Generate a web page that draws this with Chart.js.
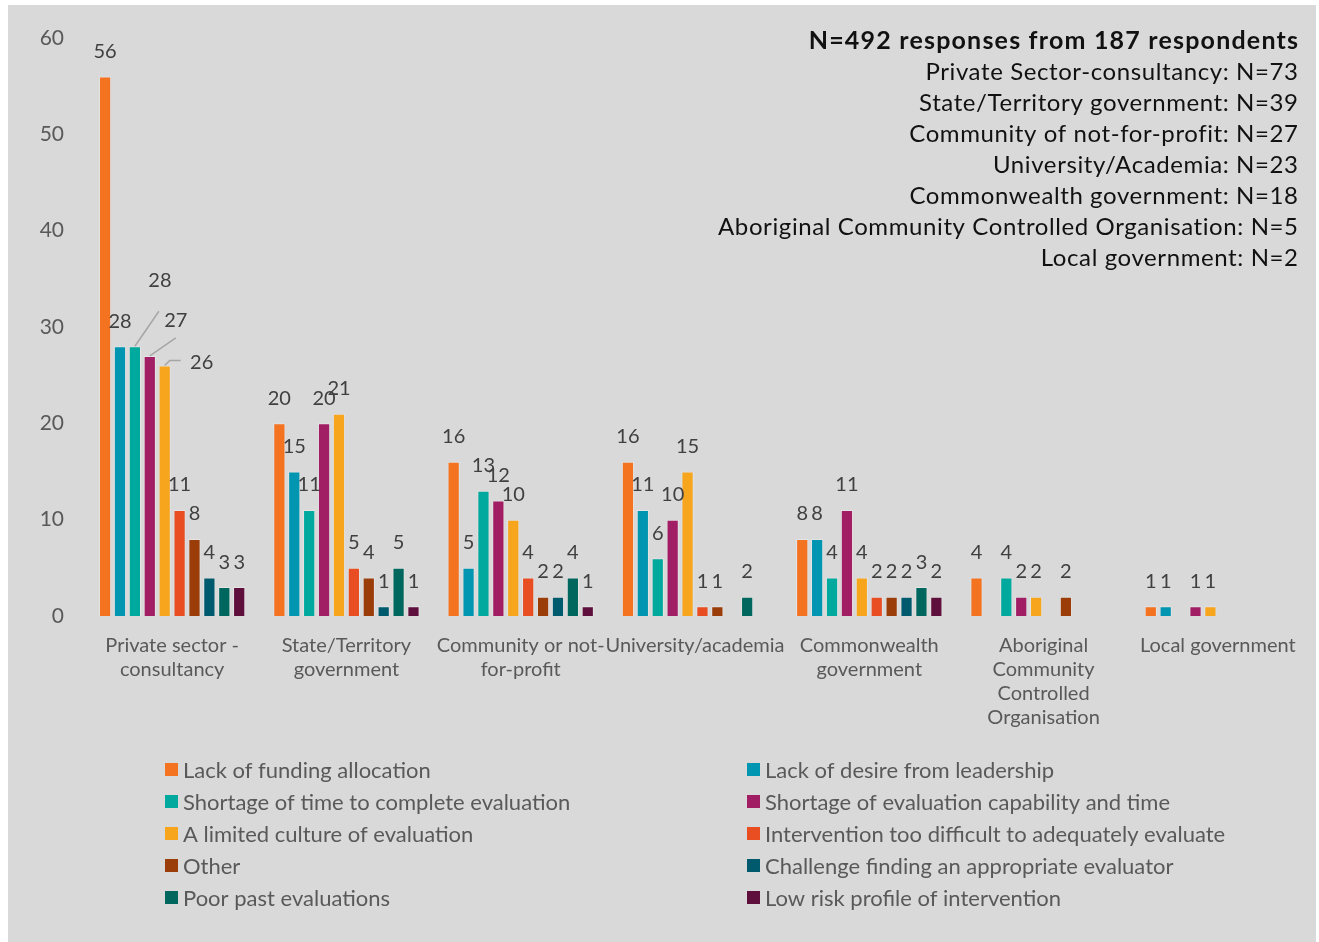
<!DOCTYPE html>
<html>
<head>
<meta charset="utf-8">
<script src="https://cdn.jsdelivr.net/npm/chart.js@4/dist/chart.umd.min.js"></script>
<style>
  html, body { margin: 0; padding: 0; background: #ffffff; }
  #wrap { position: relative; width: 1319px; height: 942px; }
</style>
</head>
<body>
<div id="wrap"><canvas id="chart" width="1319" height="942"></canvas></div>
<script>
// Respondent sectors (x-axis categories, wrapped as drawn)
const categories = [
  ['Private sector -', 'consultancy'],
  ['State/Territory', 'government'],
  ['Community or not-', 'for-profit'],
  'University/academia',
  ['Commonwealth', 'government'],
  ['Aboriginal', 'Community', 'Controlled', 'Organisation'],
  'Local government'
];

// Barrier series, one value per sector (null = no responses)
const lackOfFunding        = [56, 20, 16, 16, 8, 4, 1];
const lackOfDesire         = [28, 15, 5, 11, 8, null, 1];
const shortageOfTime       = [28, 11, 13, 6, 4, 4, null];
const shortageOfCapability = [27, 20, 12, 10, 11, 2, 1];
const limitedCulture       = [26, 21, 10, 15, 4, 2, 1];
const tooDifficult         = [11, 5, 4, 1, 2, null, null];
const other                = [8, 4, 2, 1, 2, 2, null];
const findingEvaluator     = [4, 1, 2, null, 2, null, null];
const poorPastEvaluations  = [3, 5, 4, 2, 3, null, null];
const lowRiskProfile       = [3, 1, 1, null, 2, null, null];

const seriesNames = [
  'Lack of funding allocation',
  'Lack of desire from leadership',
  'Shortage of time to complete evaluation',
  'Shortage of evaluation capability and time',
  'A limited culture of evaluation',
  'Intervention too difficult to adequately evaluate',
  'Other',
  'Challenge finding an appropriate evaluator',
  'Poor past evaluations',
  'Low risk profile of intervention'
];
const seriesValues = [
  lackOfFunding, lackOfDesire, shortageOfTime, shortageOfCapability, limitedCulture,
  tooDifficult, other, findingEvaluator, poorPastEvaluations, lowRiskProfile
];
const seriesColors = [
  '#F47321', '#0095B0', '#00A99D', '#A21E64', '#F8A51E',
  '#E84E22', '#9A3D09', '#005A6E', '#00675E', '#5E0F3B'
];

// Y-axis ticks
const yTicks = [0, 10, 20, 30, 40, 50, 60];

// Sample size notes shown top-right
const noteTitle = 'N=492 responses from 187 respondents';
const noteLines = [
  'Private Sector-consultancy: N=73',
  'State/Territory government: N=39',
  'Community of not-for-profit: N=27',
  'University/Academia: N=23',
  'Commonwealth government: N=18',
  'Aboriginal Community Controlled Organisation: N=5',
  'Local government: N=2'
];

const FONT = 'Lato, "Open Sans", sans-serif';
const GREY_TEXT = '#595959';

// Light grey panel behind the whole figure
const panelPlugin = {
  id: 'panel',
  beforeDraw(chart) {
    const ctx = chart.ctx;
    ctx.save();
    ctx.fillStyle = '#ffffff';
    ctx.fillRect(0, 0, chart.width, chart.height);
    ctx.fillStyle = '#d9d9d9';
    ctx.fillRect(8, 5, 1308, 937);
    ctx.restore();
  }
};

// Value labels above each bar; a few crowded ones are moved out with leader lines
const valueLabelPlugin = {
  id: 'valueLabels',
  afterDatasetsDraw(chart, args, opts) {
    const ctx = chart.ctx;
    ctx.save();
    ctx.font = '20px ' + FONT;
    ctx.fillStyle = '#404040';
    ctx.textAlign = 'center';
    ctx.textBaseline = 'middle';
    chart.data.datasets.forEach((ds, di) => {
      const meta = chart.getDatasetMeta(di);
      meta.data.forEach((bar, i) => {
        const v = ds.data[i];
        if (v === null || v === undefined) return;
        const key = di + ':' + i;
        const c = opts.callouts[key];
        if (c) {
          const lx = bar.x + c.dx, ly = bar.y + c.dy;
          ctx.strokeStyle = '#a6a6a6';
          ctx.lineWidth = 1.5;
          ctx.beginPath();
          ctx.moveTo(bar.x, bar.y);
          c.path.forEach(p => ctx.lineTo(bar.x + p[0], bar.y + p[1]));
          ctx.stroke();
          ctx.fillText(String(v), lx, ly);
        } else {
          ctx.fillText(String(v), bar.x, bar.y - 25);
        }
      });
    });
    ctx.restore();
  }
};

// Two-column legend and sample-size notes
const sideTextPlugin = {
  id: 'sideText',
  afterDraw(chart) {
    const ctx = chart.ctx;
    ctx.save();
    // notes
    ctx.textAlign = 'right';
    ctx.textBaseline = 'middle';
    ctx.fillStyle = '#111111';
    ctx.letterSpacing = '1.2px';
    ctx.font = 'bold 25px ' + FONT;
    ctx.fillText(noteTitle, 1298 + 1.2, 41);
    ctx.letterSpacing = '0.6px';
    ctx.font = '24px ' + FONT;
    noteLines.forEach((t, k) => ctx.fillText(t, 1298 + 0.6, 72 + k * 31));
    ctx.letterSpacing = '0px';
    // legend
    ctx.textAlign = 'left';
    ctx.font = '22px ' + FONT;
    chart.data.datasets.forEach((ds, di) => {
      const col = di % 2, row = Math.floor(di / 2);
      const bx = col === 0 ? 165 : 747;
      const cy = 769.5 + row * 32;
      ctx.fillStyle = ds.backgroundColor;
      ctx.fillRect(bx, cy - 6.5, 13, 13);
      ctx.fillStyle = GREY_TEXT;
      ctx.fillText(ds.label, bx + 18, cy + 1);
    });
    ctx.restore();
  }
};

const datasets = seriesNames.map((name, k) => ({
  label: name,
  data: seriesValues[k],
  backgroundColor: seriesColors[k],
  borderColor: 'rgba(255,255,255,0.3)',
  borderWidth: 1,
  categoryPercentage: 0.855,
  barPercentage: 0.82
}));

new Chart(document.getElementById('chart'), {
  type: 'bar',
  data: { labels: categories, datasets },
  plugins: [panelPlugin, valueLabelPlugin, sideTextPlugin],
  options: {
    responsive: false,
    animation: false,
    layout: { padding: { top: 38, right: 14, left: 0, bottom: 0 } },
    plugins: {
      legend: { display: false },
      tooltip: { enabled: false },
      valueLabels: {
        callouts: {
          '2:0': { dx: 25, dy: -66, path: [[24, -35]] },
          '3:0': { dx: 26, dy: -35, path: [[26, -18]] },
          '4:0': { dx: 37, dy: -3, path: [[5, -5], [16, -5]] }
        }
      }
    },
    scales: {
      x: {
        grid: { display: false, drawTicks: false },
        border: { display: false },
        ticks: {
          autoSkip: false, maxRotation: 0, minRotation: 0,
          padding: 17,
          color: GREY_TEXT,
          font: { family: FONT, size: 20, lineHeight: 1.21 }
        },
        afterFit(scale) { scale.height = 326; }
      },
      y: {
        min: 0, max: 60,
        grid: { display: false, drawTicks: false },
        border: { display: false },
        afterBuildTicks(scale) { scale.ticks = yTicks.map(v => ({ value: v })); },
        ticks: {
          padding: 21,
          color: GREY_TEXT,
          font: { family: FONT, size: 21 }
        },
        afterFit(scale) { scale.width = 85; }
      }
    }
  }
});
</script>
</body>
</html>
